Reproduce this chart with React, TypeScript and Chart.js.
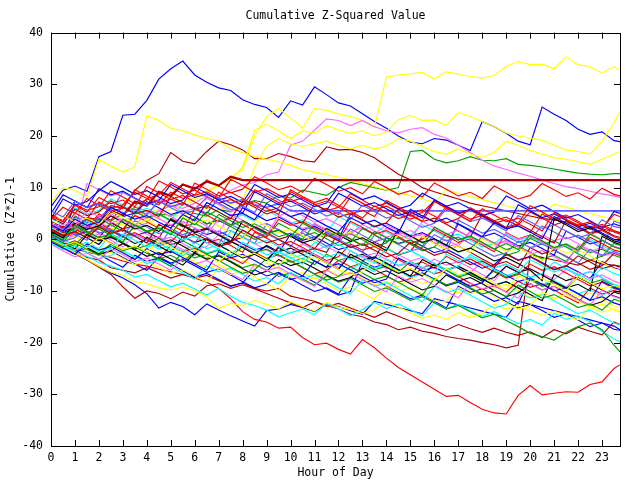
import React, { useEffect, useRef } from "react";
import { Chart, registerables } from "chart.js";

Chart.register(...registerables);

const TITLE = "Cumulative Z-Squared Value";
const X_TITLE = "Hour of Day";
const Y_TITLE = "Cumulative (Z*Z)-1";

const HOURS = [0, 0.5, 1, 1.5, 2, 2.5, 3, 3.5, 4, 4.5, 5, 5.5, 6, 6.5, 7, 7.5, 8, 8.5, 9, 9.5,
  10, 10.5, 11, 11.5, 12, 12.5, 13, 13.5, 14, 14.5, 15, 15.5, 16, 16.5, 17, 17.5, 18, 18.5, 19, 19.5,
  20, 20.5, 21, 21.5, 22, 22.5, 23, 23.5, 23.75];
const X_TICKS = [0, 1, 2, 3, 4, 5, 6, 7, 8, 9, 10, 11, 12, 13, 14, 15, 16, 17, 18, 19, 20, 21, 22, 23];
const X_MIN = 0;
const X_MAX = 23.75;
const Y_MIN = -40;
const Y_MAX = 40;

const BLUE = "#0000ff";
const RED = "#ff0000";
const GREEN = "#00a000";
const CYAN = "#00ffff";
const MAGENTA = "#ff66ff";
const YELLOW = "#ffff00";
const PERI = "#6060ff";
const DKRED = "#b00000";
const BLACK = "#000000";

// ---- bulk series (half-hour readings) ----
const d1 = [2.8,1.6,3.9,2.7,3.3,6.2,5.0,3.9,4.6,3.3, 2.2,4.8,3.6,7.1,5.9,4.6,5.0,3.8,6.9,5.7, 4.4,5.1,3.9,2.6,1.5,4.2,3.0,3.7,2.4,1.2, 5.8,4.5,3.3,4.1,2.9,1.6,0.5,3.2,2.0,2.6, 1.4,0.1,4.4,3.1,1.9,2.5,1.2,0.0,-0.3];
const d2 = [4.5,3.4,6.6,5.3,8.1,6.9,7.6,6.3,10.2,9.0, 7.7,8.5,7.2,6.0,9.1,7.8,6.6,7.3,6.0,4.8, 9.6,8.3,7.1,7.9,6.6,5.4,4.1,6.5,5.2,4.0, 4.8,3.5,7.3,6.0,4.8,3.5,5.9,4.7,3.4,4.1, 2.9,1.6,5.2,3.9,2.7,3.4,2.1,4.8,4.4];
const d3 = [1.0,-0.1,2.7,1.5,0.3,1.0,3.9,2.7,1.4,2.1, 0.9,4.1,2.8,5.3,4.1,2.8,3.5,2.2,1.0,1.8, 0.5,3.1,1.9,0.6,1.3,0.0,-1.2,1.5,0.3,-0.9, -0.2,-1.4,2.4,1.1,-0.1,0.6,-0.6,-1.9,-0.8,-2.0, 0.9,-0.3,-1.6,-0.9,-2.1,1.0,-0.2,-1.5,-1.8];
const d4 = [0.3,-0.9,-2.1,-1.2,-2.4,-1.7,1.0,-0.2,-1.5,-0.8, -2.0,-3.2,-1.4,-2.6,-1.9,-3.1,-0.6,-1.8,-3.0,-2.3, -3.5,-4.8,-2.2,-3.4,-2.7,-3.9,-5.1,-6.3,-3.8,-5.0, -4.3,-5.5,-6.7,-2.9,-4.1,-3.4,-4.6,-5.8,-7.0,-6.3, -3.9,-5.1,-6.3,-5.6,-6.8,-8.0,-5.4,-6.6,-7.0];
const d5 = [3.0,1.8,2.5,5.6,4.4,3.2,3.9,2.6,5.2,4.0, 2.8,3.5,2.2,1.0,3.9,2.7,3.4,2.1,0.9,4.6, 3.3,2.1,2.8,1.5,0.3,1.0,2.9,1.6,0.4,1.1, -0.1,3.5,2.2,1.0,1.7,0.4,-0.8,-2.0,1.2,0.0, 0.7,-0.6,-1.8,-1.1,-2.3,1.1,-0.1,-1.4,-1.7];
const d6 = [0.0,-1.2,-0.5,-1.7,0.4,-0.8,-2.0,-1.3,-2.5,-0.3, -1.5,-2.7,-2.0,-3.2,-4.4,-2.2,-3.4,-2.7,-3.9,-5.1, -2.9,-4.1,-3.4,-4.6,-5.8,-7.0,-6.3,-3.9,-5.1,-6.3, -5.6,-6.8,-8.0,-5.6,-6.8,-6.1,-7.3,-8.5,-9.7,-7.1, -8.3,-7.6,-8.8,-10.0,-7.2,-8.4,-9.6,-8.9,-9.3];
const d7 = [5.5,4.3,7.4,6.2,6.9,5.6,9.1,7.9,6.6,7.4, 6.1,4.9,5.6,8.2,7.0,5.7,6.4,5.2,8.8,7.6, 6.3,7.0,5.8,4.5,5.2,3.9,6.6,5.4,4.1,4.8, 3.6,2.3,3.1,5.9,4.7,3.4,4.1,2.9,1.6,4.6, 3.4,2.1,2.8,1.6,0.3,1.0,3.8,2.5,2.2];
const d8 = [2.0,0.8,1.5,0.3,2.4,1.1,1.8,0.6,-0.7,2.9, 1.6,0.4,1.1,-0.1,-1.4,-0.7,1.8,0.5,-0.7,0.0, -1.2,-2.5,-1.8,0.9,-0.3,-1.6,-0.9,-2.1,-3.4,-2.7, -0.6,-1.9,-3.1,-2.4,-3.6,-4.9,-4.2,-5.4,-2.9,-4.1, -3.4,-4.7,-5.9,-5.2,-3.2,-4.4,-5.7,-5.0,-5.4];
const d9 = [1.5,0.3,3.1,1.9,2.6,4.5,3.3,2.0,2.7,1.5, 3.8,2.6,1.3,2.0,0.8,-0.5,3.6,2.4,1.1,1.8, 0.6,-0.7,0.0,2.1,0.9,-0.4,0.3,-0.9,-2.2,1.9, 0.7,-0.6,0.1,-1.1,-2.4,-1.7,-2.9,-4.2,-3.5,-4.7, -6.0,-8.0,4.0,2.8,1.5,2.2,1.0,-0.3,-0.6];
const d10 = [-0.5,-1.7,-2.9,-0.9,-2.1,-1.4,-2.6,-3.9,-1.8,-3.0, -2.3,-3.5,-4.8,-6.0,-2.4,-3.6,-2.9,-4.1,-5.4,-4.7, -5.9,-7.1,-4.2,-5.4,-4.7,-5.9,-7.2,-8.4,-7.7,-3.6, -4.8,-6.1,-5.4,-6.6,-7.9,-9.1,-8.4,-5.7,-6.9,-8.2, -7.5,-8.7,-10.0,-9.3,-10.5,-11.8,-8.1,-9.3,-9.7];
const d11 = [3.8,6.2,5.0,7.9,6.6,5.4,6.1,9.6,8.4,7.1, 7.8,6.6,10.9,9.7,8.4,9.1,7.9,6.6,5.4,6.1, 9.2,8.0,6.7,7.4,6.2,4.9,5.6,4.4,7.5,6.3, 5.0,5.7,4.5,3.2,4.0,6.1,4.9,3.6,4.3,3.1, 6.5,5.3,4.0,4.7,3.5,2.2,2.9,1.7,1.3];
const d12 = [-0.2,-1.4,-0.7,-1.9,-3.1,-1.0,-2.2,-1.5,-2.7,-3.9, -5.2,-2.4,-3.6,-2.9,-4.1,-5.4,-6.6,-5.9,-3.7,-4.9, -4.2,-5.4,-6.7,-7.9,-7.2,-5.3,-6.5,-7.8,-7.1,-8.3, -9.6,-10.8,-7.6,-8.8,-8.1,-9.4,-10.6,-9.9,-11.1,-8.9, -10.1,-11.4,-10.7,-11.9,-13.2,-12.5,-13.7,-11.6,-12.0];
const d13 = [2.2,1.0,1.7,3.6,2.4,1.1,1.8,0.6,-0.7,2.4, 1.2,-0.1,0.6,-0.6,-1.9,1.6,0.4,-0.9,-0.2,-1.4, -2.7,-3.9,-0.5,-1.7,-1.0,-2.2,-3.5,-4.7,-1.7,-2.9, -2.2,-3.4,-4.7,-5.9,-5.2,-3.0,-4.2,-5.5,-4.8,-6.0, -7.3,-6.6,-4.4,-5.6,-6.9,-6.2,-7.4,-8.7,-9.0];
const d14 = [-1.0,-2.2,-3.4,-2.7,-3.9,-1.8,-3.0,-4.3,-3.6,-4.8, -6.0,-3.6,-4.8,-4.1,-5.4,-6.6,-7.8,-4.9,-6.1,-5.4, -6.7,-7.9,-9.1,-6.0,-7.2,-6.5,-7.8,-9.0,-10.2,-7.1, -8.3,-7.6,-8.9,-10.1,-11.3,-8.4,-9.6,-8.9,-10.2,-11.4, -8.6,-9.8,-9.1,-10.4,-11.6,-12.8,-9.9,-11.1,-11.5];
const d15 = [2.5,4.6,3.4,4.1,2.9,5.5,4.3,3.0,3.7,2.5, 1.2,4.3,3.1,3.8,2.6,1.3,0.1,3.8,2.6,1.3, 2.0,0.8,-0.5,1.9,0.7,1.4,0.2,-1.1,-2.3,1.0, -0.2,0.5,-0.8,-2.0,-1.3,-2.5,0.1,-1.1,-2.4,-1.7, -2.9,-4.2,-1.5,-2.7,-2.0,-3.2,-4.5,-5.7,-6.0];
const d16 = [0.8,-0.4,0.3,2.4,1.2,1.9,0.7,3.6,2.4,1.1, 1.8,0.6,-0.7,2.2,1.0,1.7,0.5,-0.8,3.0,1.8, 0.5,1.2,0.0,-1.3,-0.6,2.0,0.8,-0.5,0.2,-1.0, -2.3,-1.6,0.9,-0.3,0.4,-0.8,-2.1,-3.3,-2.6,-0.4, -1.6,-0.9,-2.1,-3.4,-4.6,-1.9,-3.1,-2.4,-2.8];
const d17 = [4.2,3.0,5.8,4.6,5.3,7.4,6.2,4.9,5.6,4.4, 8.3,7.1,5.8,6.5,5.3,4.0,7.4,6.2,4.9,5.6, 4.4,3.1,6.8,5.6,4.3,5.0,3.8,2.5,3.2,5.9, 4.7,3.4,4.1,2.9,1.6,0.4,4.8,3.6,2.3,3.0, 1.8,0.5,-0.7,3.7,2.5,1.2,1.9,0.7,0.4];
const d18 = [0.0,-1.2,-0.5,-1.7,-2.9,-2.2,-0.8,-2.0,-3.3,-2.6, -3.8,-5.0,-2.7,-3.9,-3.2,-4.4,-5.7,-6.9,-6.2,-3.9, -5.1,-4.4,-5.6,-6.9,-8.1,-7.4,-5.6,-6.8,-6.1,-7.3, -8.6,-9.8,-9.1,-6.9,-8.1,-7.4,-8.6,-9.9,-11.1,-10.4, -8.6,-9.8,-9.1,-10.3,-11.6,-12.8,-12.1,-10.2,-10.6];
const d19 = [5.0,8.6,7.4,6.1,9.8,8.6,9.3,8.0,6.8,7.5, 10.6,9.4,8.1,8.8,7.6,6.3,5.1,9.2,8.0,6.7, 7.4,6.2,4.9,5.6,8.9,7.7,6.4,7.1,5.9,4.6, 5.3,4.1,7.6,6.4,5.1,5.8,4.6,3.3,2.1,6.7, 5.5,4.2,4.9,3.7,2.4,3.1,1.9,5.4,5.0];
const d20 = [1.8,0.6,1.3,3.8,2.6,1.3,2.0,4.6,3.4,2.1, 2.8,1.6,5.9,4.7,3.4,4.1,2.9,1.6,0.4,3.9, 2.7,3.4,2.2,0.9,-0.3,3.5,2.3,1.0,1.7,0.5, -0.8,0.0,1.9,0.7,-0.6,0.1,-1.1,-2.4,1.3,0.1, 0.8,-0.4,-1.7,-1.0,-2.2,0.4,-0.8,-2.1,-2.4];
const d21 = [0.5,-0.7,2.5,1.3,2.0,0.8,-0.5,2.8,1.6,2.3, 1.1,-0.2,4.2,3.0,3.7,2.5,1.2,0.0,0.7,3.1, 1.9,0.6,1.3,0.1,-1.2,-0.5,2.1,0.9,-0.4,0.3, -0.9,-2.2,-1.5,1.1,-0.1,0.6,-0.6,-1.9,-3.1,-2.4, 0.2,-1.0,-0.3,-1.5,-2.8,-4.0,-3.3,-0.8,-1.2];
const d22 = [-0.8,-2.0,-1.3,-2.5,-3.8,-3.1,-2.2,-3.4,-4.7,-4.0, -5.2,-6.5,-7.7,-5.1,-6.3,-5.6,-6.8,-8.1,-7.4,-8.6, -6.4,-7.6,-6.9,-8.1,-9.4,-10.6,-7.9,-9.1,-8.4,-9.6, -10.9,-12.1,-9.1,-10.3,-9.6,-10.8,-12.1,-13.3,-12.6,-10.2, -11.4,-10.7,-11.9,-13.2,-14.4,-13.7,-15.0,-16.2,-16.6];
const d23 = [1.2,3.6,2.4,3.1,1.9,4.9,3.7,2.4,3.1,5.6, 4.4,3.1,3.8,2.6,1.3,4.9,3.7,2.4,3.1,1.9, 0.6,1.3,3.1,1.9,0.6,1.3,0.1,-1.2,2.2,1.0, 1.7,0.5,-0.8,-0.1,-1.3,1.6,0.4,-0.9,-0.2,-1.4, -2.7,0.9,-0.3,0.4,-0.8,-2.1,-3.3,-2.6,-3.0];
const d24 = [0.0,-1.4,-2.6,-3.9,-5.2,-6.3,-7.0,-8.2,-8.6,-9.4, -9.8,-9.2,-10.0,-11.1,-13.4,-12.4,-12.8,-11.8,-12.6,-13.4, -12.1,-13.0,-13.9,-12.2,-13.1,-13.6,-14.4,-13.6,-12.0,-13.1, -14.2,-15.3,-14.6,-15.5,-14.2,-15.1,-14.3,-12.6,-13.5,-12.9, -13.8,-14.7,-13.9,-14.8,-15.6,-13.2,-14.1,-13.5,-14.0];
const d25 = [3.0,2.0,4.3,3.3,4.0,6.1,5.1,5.8,4.8,7.3, 6.3,7.0,6.0,5.0,8.0,7.0,7.7,6.7,6.2,6.9, 5.5,5.5,5.5,5.5,5.5,5.5,5.5,5.5,5.5,5.5, 5.5,5.5,5.5,5.5,5.5,5.5,5.5,5.5,5.5,5.5, 5.5,5.5,5.5,5.5,5.5,5.5,5.5,5.5,5.5];
const d26 = [0.8,2.4,1.6,3.9,3.1,5.4,4.6,7.3,6.5,9.2, 8.4,10.6,9.8,11.2,10.4,12.1,11.45,11.45,11.45,11.45, 11.45,11.45,11.45,11.45,11.45,11.45,11.45,11.45,11.45,11.45, 11.45,11.45,11.45,11.45,11.45,11.45,11.45,11.45,11.45,11.45, 11.45,11.45,11.45,11.45,11.45,11.45,11.45,11.45,11.45];
const d27 = [0.5,-0.7,-1.9,0.9,-0.3,0.4,-0.8,-2.1,0.4,-0.8, -0.1,-1.3,-2.6,0.1,-1.1,-0.4,-1.6,-2.9,-4.1,-1.6, -2.8,-2.1,-3.3,-4.6,-5.8,-2.9,-4.1,-3.4,-4.6,-5.9, -7.1,-3.9,-5.1,-4.4,-5.6,-6.9,-8.1,-7.4,-5.2,-6.4, -5.7,-6.9,-8.2,-9.4,-8.7,-10.0,0.6,-0.6,-1.0];
const d28 = [4.0,7.8,6.6,7.3,9.4,11.2,10.0,8.7,9.4,8.2, 6.9,7.6,10.1,8.9,7.6,8.3,7.1,10.6,9.4,8.1, 8.8,7.6,6.3,7.0,10.2,9.0,7.7,8.4,7.2,5.9, 6.6,8.9,7.7,6.4,7.1,5.9,4.6,5.3,8.4,7.2, 5.9,6.6,5.4,4.1,4.8,3.6,2.3,3.0,2.6];
const d29 = [3.0,1.8,5.1,3.9,7.2,6.0,6.7,9.1,7.9,8.6, 11.0,9.8,8.5,9.2,8.0,11.6,10.4,9.1,9.8,8.6, 7.3,8.0,6.8,5.5,6.2,8.8,7.6,6.3,7.0,5.8, 4.5,5.2,7.4,6.2,4.9,5.6,4.4,3.1,3.8,2.6, 1.3,4.9,3.7,4.4,3.2,1.9,2.6,1.4,1.0];
const d30 = [0.0,-1.2,-0.4,-1.6,-2.8,-0.9,-2.1,-1.4,-2.6,-3.8, -3.1,-4.3,-2.5,-3.7,-3.0,-4.2,-5.5,-4.8,-6.0,-7.2, -6.5,-7.7,-8.9,-7.1,-8.3,-7.6,-8.8,-10.1,-9.4,-10.6, -11.8,-11.1,-12.3,-13.5,-12.8,-14.0,-15.2,-14.5,-15.7,-16.9, -18.2,-18.8,-19.5,-18.0,-16.9,-16.2,-17.5,-20.5,-21.8];
const d31 = [0.0,-1.2,-2.4,-3.3,-4.5,-5.2,-6.0,-7.3,-6.8,-8.0, -9.2,-8.5,-9.6,-10.8,-9.5,-11.0,-12.2,-12.8,-13.7,-15.0, -14.2,-13.5,-14.6,-12.4,-13.5,-14.8,-13.6,-12.2,-13.4,-12.5, -13.6,-14.8,-12.3,-13.4,-12.6,-13.8,-14.9,-14.0,-15.2,-16.3, -15.5,-16.6,-14.3,-15.5,-14.8,-16.0,-17.8,-19.3,-19.8];
const d32 = [0.0,-1.2,1.5,0.3,1.0,-0.2,-1.5,1.0,-0.2,0.5, -0.7,-2.0,-3.2,0.2,-1.0,-0.3,-1.5,-2.8,-4.0,-1.3, -2.5,-1.8,-3.0,-4.3,-5.5,-2.2,-3.4,-2.7,-3.9,-5.2, -4.5,-5.7,-3.8,-5.0,-4.3,-5.5,-6.8,-8.0,-5.2,-6.4, -5.7,-6.9,-8.2,-9.4,-6.4,-7.6,-6.9,-8.1,-8.5];
const d33 = [-0.3,-1.5,-0.8,-2.0,-3.2,-2.5,-3.7,-4.9,-4.2,-5.4, -6.6,-5.9,-7.1,-8.3,-5.6,-6.8,-6.1,-7.3,-8.6,-9.8, -6.9,-8.1,-7.4,-8.6,-9.9,-9.2,-10.4,-11.6,-8.9,-10.1, -9.4,-10.6,-11.9,-12.1,-9.3,-10.5,-9.8,-11.0,-12.3,-13.5, -12.8,-10.2,-11.4,-10.7,-11.9,-13.2,-12.5,-13.7,-14.1];
const d34 = [1.5,0.3,1.0,-0.2,2.8,1.6,0.3,1.0,-0.2,-1.5, 2.1,0.9,1.6,0.4,-0.9,2.9,1.7,0.4,1.1,-0.1, -1.4,1.7,0.5,1.2,0.0,-1.3,-2.5,0.8,-0.4,0.3, -0.9,-2.2,-1.5,-2.7,3.7,2.5,1.2,1.9,0.7,-0.6, 0.1,2.6,1.4,0.1,0.8,-0.4,-1.7,3.5,3.1];
const d35 = [3.5,2.3,3.0,1.8,4.5,3.3,2.0,2.7,1.5,0.2, 4.0,2.8,1.5,2.2,1.0,-0.3,0.4,2.5,1.3,0.0, 0.7,-0.5,-1.8,-2.5,1.3,0.1,-1.2,-0.5,-1.7,-3.0, -2.3,0.5,-0.7,-2.0,-1.3,-2.5,-3.8,-5.0,-4.3,-5.5, -1.6,-2.8,-2.1,-3.3,-4.6,-5.8,-5.1,-2.7,-3.1];
const d36 = [2.0,0.8,1.5,0.3,-1.0,1.7,0.5,-0.8,-0.1,-1.3, -2.6,0.6,-0.6,0.1,-1.1,-2.4,-3.6,-2.9,-1.2,-2.4, -1.7,-2.9,-4.2,-5.4,-2.4,-3.6,-2.9,-4.1,-5.4,-6.6, -5.9,-7.1,-4.7,-5.9,-5.2,-6.4,-7.7,-8.9,-8.2,-9.4, -10.7,-11.9,-6.8,-8.0,-7.3,-8.5,-9.8,-11.0,-11.4];
const d37 = [4.8,3.6,6.8,5.6,6.3,9.4,8.2,6.9,7.6,11.3, 10.1,8.8,9.5,8.3,7.0,7.7,6.5,9.6,8.4,7.1, 7.8,6.6,5.3,6.0,4.8,8.2,7.0,5.7,6.4,5.2, 3.9,4.6,3.4,6.4,5.2,3.9,4.6,3.4,2.1,2.8, 5.3,4.1,2.8,3.5,2.3,1.0,1.7,0.5,0.1];
const d38 = [1.0,-0.2,7.4,6.2,6.9,5.7,4.4,5.1,7.3,6.1, 4.8,5.5,4.3,3.0,3.7,2.5,6.1,4.9,3.6,4.3, 3.1,1.8,2.5,1.3,0.0,4.9,3.7,2.4,3.1,1.9, 0.6,1.3,0.1,-1.2,3.0,1.8,0.5,1.2,0.0,-1.3, -0.6,-1.8,-3.1,1.6,0.4,-0.9,-0.2,-1.4,-1.8];
const d39 = [-0.5,-1.7,-1.0,1.1,-0.1,0.6,-0.6,-1.9,-1.2,0.2, -1.0,-0.3,-1.5,-2.8,-2.1,-3.3,-1.4,-2.6,-1.9,-3.1, -4.4,-3.7,-4.9,-2.9,-4.1,-3.4,-4.6,-5.9,-5.2,-6.4, -4.3,-5.5,-4.8,-6.0,-7.3,-6.6,-7.8,-6.1,-7.3,-6.6, -7.8,-9.1,-8.4,-9.6,-7.3,-8.5,-7.8,-9.0,-9.4];
const d40 = [1.2,0.0,-1.3,-0.6,-1.8,1.1,-0.1,0.6,-0.6,-1.9, -1.2,-2.4,-0.6,-1.8,-1.1,-2.3,-3.6,-2.9,-4.1,-2.5, -3.7,-3.0,-4.2,-5.5,-4.8,-6.0,-4.4,-5.6,-4.9,-6.1, -7.4,-6.7,-7.9,-5.9,-7.1,-6.4,-7.6,-8.9,-8.2,-9.4, -7.5,-8.7,-8.0,-9.2,-10.5,-9.8,-11.0,-9.2,-9.6];
const d41 = [0.0,0.9,1.8,10.8,9.6,8.4,9.1,7.9,6.6,7.8, 6.6,5.3,6.0,7.9,6.7,5.4,6.1,4.9,3.6,4.3, 5.8,4.6,3.3,4.0,2.8,1.5,2.2,1.0,2.8,1.6, 0.3,1.0,-0.2,-1.5,-0.8,1.4,0.2,-1.1,-0.4,-1.6, -2.9,-2.2,-3.4,-4.7,-1.1,-2.3,-1.6,-2.8,-3.2];
const d42 = [0.0,-1.2,-2.4,-1.7,-2.9,-4.2,-5.4,-3.1,-4.3,-3.6, -4.8,-6.1,-7.3,-6.6,-7.8,-9.1,-8.4,-5.9,-7.1,-6.4, -7.6,-8.9,-10.1,-9.4,-10.6,-7.3,-8.5,-7.8,-9.0,-10.3, -11.5,-10.8,-12.0,-13.3,-9.1,-10.3,-9.6,-10.8,-12.1,-13.3, -12.6,-13.8,-15.1,-14.4,-15.6,-16.9,-16.2,-17.4,-17.6];
const d43 = [0.2,-1.0,-0.3,-1.5,0.5,-0.7,-2.0,-1.3,-2.5,-3.8, -1.2,-2.4,-1.7,-2.9,-4.2,-3.5,-4.7,-2.5,-3.7,-3.0, -4.2,-5.5,-6.7,-6.0,-4.1,-5.3,-4.6,-5.8,-7.1,-8.3, -7.6,-5.5,-6.7,-6.0,-7.2,-8.5,-9.7,-9.0,-10.2,-8.1, -9.3,-8.6,-9.8,-11.1,-12.3,-9.4,-10.6,-9.9,-10.3];
const d44 = [0.0,-1.2,-0.5,-1.7,-3.0,-2.3,-3.5,-4.8,-6.0,-3.4, -4.6,-3.9,-5.1,-6.4,-5.7,-6.9,-8.2,-9.4,-8.7,-6.6, -7.8,-7.1,-8.3,-9.6,-10.8,-10.1,-4.2,-5.4,-4.7,-5.9, -7.2,-6.5,-7.7,-9.0,-8.3,-9.5,-10.8,-12.0,-11.3,-12.5, -7.6,-8.8,-8.1,-9.3,-10.6,-11.8,-11.1,-12.3,-12.7];
const d45 = [2.5,1.3,2.0,0.8,3.1,1.9,0.6,1.3,0.1,-1.2, -0.5,1.8,0.6,-0.7,0.0,-1.2,-2.5,1.4,0.2,-1.1, -0.4,-1.6,-2.9,-4.1,-3.4,-0.9,-2.1,-1.4,-2.6,-3.9, -5.1,-4.4,-5.6,-3.3,-4.5,-3.8,-5.0,-6.3,-7.5,-6.8, -4.8,-6.0,-5.3,-6.5,-7.8,-9.0,-8.3,-9.5,-9.9];
const d46 = [1.8,0.6,4.5,3.3,4.0,2.8,1.5,5.4,4.2,4.9, 3.7,2.4,3.1,1.9,4.8,3.6,2.3,3.0,1.8,0.5, 1.2,0.0,2.9,1.7,0.4,1.1,-0.1,-1.4,-0.7,1.8, 0.6,-0.7,0.0,-1.2,-2.5,-1.8,0.5,-0.7,-2.0,-1.3, -2.5,-3.8,-3.1,-4.3,-1.4,-2.6,-1.9,-3.1,-3.5];
const d47 = [3.2,2.0,0.8,1.5,0.3,3.2,2.0,0.7,1.4,0.2, -1.1,-0.4,2.1,0.9,1.6,0.4,-0.9,-2.1,-1.4,-2.6, 1.0,-0.2,0.5,-0.7,-2.0,-1.3,-2.5,-3.8,0.4,-0.8, -0.1,-1.3,-2.6,-1.9,-3.1,-4.4,-5.6,-4.9,-2.8,-4.0, -3.3,-4.5,-5.8,-5.1,-6.3,-7.6,-4.3,-5.5,-5.9];
const d48 = [0.6,3.1,1.9,2.6,1.4,0.1,0.8,2.2,1.0,-0.3, 0.4,-0.8,-2.1,-1.4,0.9,-0.3,0.4,-0.8,-2.1,-3.3, -2.6,-0.9,-2.1,-1.4,-2.6,-3.9,-3.2,-4.4,-5.7,-3.0, -4.2,-3.5,-4.7,-6.0,-5.3,-6.5,-4.3,-5.5,-4.8,-6.0, -7.3,-6.6,-7.8,-5.8,-7.0,-6.3,-7.5,-8.8,-9.2];
const d49 = [1.0,-0.2,0.5,-0.7,-2.0,-1.3,-2.5,-3.8,-1.4,-2.6, -1.9,-3.1,-4.4,-5.6,-4.9,-6.1,-4.1,-5.3,-4.6,-5.8, -7.1,-6.4,-7.6,-5.8,-7.0,-6.3,-7.5,-8.8,-8.1,-9.3, -7.4,-8.6,-7.9,-9.1,-10.4,-9.7,-8.2,-9.4,-8.7,-9.9, -11.2,-10.5,-11.7,-9.9,-11.1,-10.4,-11.6,-12.9,-13.3];
const d50 = [4.0,2.8,6.1,4.9,5.6,7.8,6.6,5.3,6.0,4.8, 3.5,7.0,5.8,6.5,5.3,4.0,4.7,3.5,5.6,4.4, 3.1,3.8,2.6,1.3,4.4,3.2,1.9,2.6,1.4,0.1, 0.8,2.8,1.6,0.3,1.0,-0.2,-1.5,-0.8,1.0,-0.2, 0.5,-0.7,-2.0,-1.3,-2.5,0.0,-1.2,-2.4,-2.8];
const d51 = [0.0,-1.3,-2.7,-4.0,-5.4,-6.8,-9.2,-11.4,-10.0,-10.5, -11.5,-10.2,-11.0,-9.0,-8.6,-9.5,-8.8,-9.6,-10.5,-11.4, -12.3,-13.2,-12.1,-13.0,-12.4,-13.3,-14.2,-15.1,-14.0,-14.9, -15.8,-16.4,-17.0,-17.6,-16.5,-17.3,-18.0,-17.2,-18.0,-18.6, -17.9,-19.0,-17.5,-18.3,-17.0,-17.8,-18.5,-16.0,-16.5];
const d52 = [2.0,0.8,3.5,2.3,4.9,3.7,6.4,5.2,7.9,6.7, 9.1,7.9,8.6,11.5,10.3,9.0,9.7,12.1,10.9,9.6, 10.3,9.1,11.8,10.6,9.3,10.0,8.8,11.2,10.0,8.7, 9.4,8.2,10.9,9.7,8.4,9.1,7.9,10.3,9.1,7.8, 8.5,10.8,9.6,8.3,9.0,7.8,9.9,8.7,8.4];

// ---- prominent series ----
const blueTop = [6.3,9.5,10.3,9.3,16.0,17.0,24.0,24.2,26.9,31.0, 33.0,34.5,31.8,30.4,29.3,28.8,27.0,26.1,25.5,23.6, 26.8,26.0,29.5,28.0,26.4,25.8,24.3,22.8,21.5,20.0, 18.8,18.5,19.5,19.2,18.2,17.2,22.8,21.8,20.5,19.0, 18.3,25.6,24.2,23.0,21.3,20.3,20.8,19.1,18.9];
const yellowTop = [0,0.8,1.5,2.5,2.0,3.0,3.5,4.5,5.0,5.8, 6.5,7.0,8.0,9.5,10.5,12.0,13.5,20.0,23.7,25.3, 23.5,21.5,25.3,25.0,24.3,23.8,23.0,21.6,31.4,31.8, 32.0,32.3,31.0,32.4,32.0,31.5,31.2,31.7,33.5,34.4, 33.8,33.9,33.0,35.3,33.8,33.4,32.2,33.4,32.7];
const yellowEarly = [7.2,10.0,9.5,8.3,15.5,14.2,13.0,14.0,23.9,23.0, 21.5,21.0,20.2,19.5,19.0,17.5,16.8,16.0,15.5,15.0, 14.3,13.5,13.0,12.5,12.0,11.4,10.8,10.2,9.6,9.0, 8.4,7.8,7.2,9.5,8.9,8.3,7.7,7.1,6.5,5.9, 5.3,4.7,6.8,6.2,5.6,5.0,4.4,3.8,3.5];
const yellowMid = [0,-0.5,0.5,1.5,1.0,2.0,3.0,2.5,4.0,5.0, 5.8,6.5,7.5,9.0,10.5,11.5,14.0,21.1,22.3,21.0, 19.5,21.0,20.5,22.0,21.2,20.5,21.0,20.0,20.8,23.1, 24.0,23.0,23.1,22.0,24.5,23.8,22.8,21.8,20.6,20.0, 19.6,19.2,18.2,17.3,17.0,16.5,19.0,22.5,24.7];
const yellowLow = [0,0.7,1.4,1.0,2.2,1.8,3.0,3.5,3.0,4.2, 4.8,4.4,5.5,6.0,5.6,6.8,7.5,14.0,18.0,19.5, 18.5,18.0,18.5,19.0,18.2,17.5,18.2,17.5,18.0,19.5, 19.0,18.0,17.0,16.5,17.5,16.5,15.8,16.8,19.0,18.2, 17.2,16.5,15.8,15.5,15.0,14.5,15.5,16.5,17.0];
const magentaTop = [0,1.0,0.5,2.0,3.0,2.5,3.5,4.5,4.0,5.5, 6.5,6.0,7.0,8.5,8.0,9.5,10.5,11.0,12.5,13.0, 18.2,19.0,21.1,23.3,23.0,22.0,23.0,21.8,21.0,20.6, 21.3,21.6,20.3,19.6,18.2,16.8,15.3,14.2,13.5,12.8, 12.2,11.5,10.8,10.2,9.8,9.3,8.8,8.4,8.1];
const darkRedTop = [0.5,2.5,2.0,4.2,3.8,6.5,6.0,9.5,11.4,12.7, 16.8,15.1,14.6,17.0,19.0,18.3,17.3,15.6,15.6,16.6, 16.0,15.2,15.0,17.9,17.3,17.4,16.8,15.8,14.2,12.6, 11.5,10.0,9.2,8.5,7.8,7.0,6.5,6.0,5.5,5.0, 4.5,4.0,3.8,3.2,2.8,2.5,2.0,1.5,1.3];
const greenTop = [0,1.5,1.0,2.5,3.8,3.5,5.0,6.2,5.5,5.0, 4.5,5.5,5.0,4.5,5.8,5.3,6.8,7.5,7.0,8.5, 8.0,9.5,9.0,8.5,10.0,11.0,10.5,10.0,9.5,10.0, 17.0,17.2,15.5,14.8,15.2,16.0,15.3,15.2,15.6,14.5, 14.3,14.0,13.6,13.2,12.8,12.6,12.5,12.7,12.7];
const darkRedLow = [0,-1.5,-2.0,-3.5,-4.0,-5.5,-6.0,-6.5,-5.5,-6.5, -7.5,-6.8,-7.5,-7.0,-8.0,-9.0,-8.5,-9.5,-10.0,-9.5, -11.0,-11.5,-12.0,-12.8,-13.5,-14.5,-15.0,-16.0,-16.5,-17.5, -17.0,-17.8,-18.2,-18.8,-19.2,-19.5,-20.0,-20.4,-21.0,-20.5, -3.0,-3.5,-4.0,-4.5,-5.0,-4.0,-4.8,-5.0,-5.2];
const redBottom = [0,-1.0,-1.8,-2.5,-3.0,-3.5,-4.2,-4.8,-5.2,-5.8, -6.3,-6.8,-7.5,-8.3,-9.5,-11.5,-14.0,-15.5,-16.0,-17.2, -17.0,-19.0,-20.4,-20.1,-21.3,-22.2,-19.4,-21.0,-23.0,-24.8, -26.2,-27.6,-29.0,-30.4,-30.2,-31.6,-32.9,-33.6,-33.8,-30.2, -28.3,-30.1,-29.8,-29.5,-29.6,-28.1,-27.6,-25.0,-24.3];
const blueBottom = [0,-1.5,-2.8,-4.0,-5.2,-6.5,-7.5,-8.8,-10.5,-13.3, -12.2,-13.0,-14.6,-12.5,-13.7,-14.8,-15.8,-16.8,-13.8,-13.5, -12.6,-13.2,-14.0,-12.5,-13.0,-13.8,-14.5,-12.0,-12.6,-13.2, -13.8,-14.4,-11.5,-12.1,-12.7,-13.3,-13.9,-14.5,-15.1,-12.0, -12.6,-13.2,-13.8,-14.4,-15.0,-15.6,-16.2,-16.8,-17.5];

const SERIES: [number[], string, number][] = [
  [d1, BLUE, 1], [d2, RED, 1], [d3, GREEN, 1], [d4, CYAN, 1], [d5, MAGENTA, 1], [d6, YELLOW, 1],
  [d7, PERI, 1], [d8, DKRED, 1], [d9, BLACK, 1], [d10, BLUE, 1], [d11, RED, 1], [d12, GREEN, 1],
  [d13, CYAN, 1], [d14, MAGENTA, 1], [d15, YELLOW, 1], [d16, PERI, 1], [d17, DKRED, 1], [d18, BLACK, 1],
  [d19, BLUE, 1], [d20, RED, 1], [d21, GREEN, 1], [d22, CYAN, 1], [d23, MAGENTA, 1], [d24, YELLOW, 1],
  [d25, PERI, 1.4], [d26, DKRED, 2], [d27, BLACK, 1], [d28, BLUE, 1], [d29, RED, 1], [d30, GREEN, 1],
  [d31, CYAN, 1], [d32, MAGENTA, 1], [d33, YELLOW, 1], [d34, PERI, 1], [d35, DKRED, 1], [d36, BLACK, 1],
  [d37, RED, 1], [d38, BLUE, 1], [d39, GREEN, 1], [d40, CYAN, 1], [d41, MAGENTA, 1], [d42, BLUE, 1],
  [d43, RED, 1], [d44, BLUE, 1], [d45, RED, 1], [d46, GREEN, 1], [d47, BLUE, 1], [d48, MAGENTA, 1],
  [d49, YELLOW, 1], [d50, CYAN, 1], [d51, DKRED, 1], [d52, RED, 1],
  [yellowEarly, YELLOW, 1], [yellowMid, YELLOW, 1], [yellowLow, YELLOW, 1], [magentaTop, MAGENTA, 1],
  [darkRedTop, DKRED, 1], [greenTop, GREEN, 1], [darkRedLow, DKRED, 1], [redBottom, RED, 1],
  [blueBottom, BLUE, 1], [yellowTop, YELLOW, 1], [blueTop, BLUE, 1],
];

const FONT = { family: "'DejaVu Sans Mono', monospace", size: 11.5, weight: "normal" as const, lineHeight: 1.2 };

const frameTicks = {
  id: "frameTicks",
  afterDatasetsDraw(chart: any) {
    const { ctx, chartArea, scales } = chart;
    const { left, right, top, bottom } = chartArea;
    const xs = scales.x;
    const ys = scales.y;
    ctx.save();
    ctx.strokeStyle = "#000";
    ctx.lineWidth = 1;
    ctx.beginPath();
    xs.ticks.forEach((t: any) => {
      const px = Math.round(xs.getPixelForValue(t.value)) + 0.5;
      ctx.moveTo(px, bottom);
      ctx.lineTo(px, bottom - 6);
      ctx.moveTo(px, top);
      ctx.lineTo(px, top + 6);
    });
    ys.ticks.forEach((t: any) => {
      const py = Math.round(ys.getPixelForValue(t.value)) + 0.5;
      ctx.moveTo(left, py);
      ctx.lineTo(left + 6, py);
      ctx.moveTo(right, py);
      ctx.lineTo(right - 6, py);
    });
    ctx.stroke();
    ctx.strokeRect(Math.round(left) + 0.5, Math.round(top) + 0.5, Math.round(right - left), Math.round(bottom - top));
    ctx.restore();
  },
};

export default function App() {
  const ref = useRef<HTMLCanvasElement | null>(null);
  useEffect(() => {
    if (!ref.current) return;
    const datasets = SERIES.map(([vals, color, w]) => ({
      data: HOURS.map((h, i) => ({ x: h, y: vals[i] })),
      borderColor: color,
      backgroundColor: color,
      borderWidth: w * 1.15,
      pointRadius: 0,
      tension: 0,
      fill: false,
    }));
    const chart = new Chart(ref.current, {
      type: "line",
      data: { datasets },
      plugins: [frameTicks],
      options: {
        animation: false,
        responsive: false,
        maintainAspectRatio: false,
        layout: { padding: { left: 0, right: 20, top: 0, bottom: 0 } },
        plugins: {
          legend: { display: false },
          tooltip: { enabled: false },
          title: {
            display: true,
            text: TITLE,
            color: "#000",
            font: FONT,
            fullSize: false,
            padding: { top: 9, bottom: 9.8 },
          },
        },
        scales: {
          x: {
            type: "linear",
            min: X_MIN,
            max: X_MAX,
            grid: { display: false, drawTicks: false },
            border: { display: false },
            afterBuildTicks: (axis: any) => {
              axis.ticks = X_TICKS.map((v) => ({ value: v }));
            },
            afterFit: (scale: any) => { scale.height = 34; },
            ticks: {
              autoSkip: false,
              maxRotation: 0,
              color: "#000",
              font: FONT,
              padding: 5,
              callback: (v: any) => String(v),
            },
            title: { display: true, text: X_TITLE, color: "#000", font: FONT, padding: { top: 0, bottom: 0 } },
          },
          y: {
            type: "linear",
            min: Y_MIN,
            max: Y_MAX,
            grid: { display: false, drawTicks: false },
            border: { display: false },
            afterFit: (scale: any) => { scale.width = 51; },
            ticks: { stepSize: 10, color: "#000", font: FONT, padding: 8 },
            title: { display: true, text: Y_TITLE, color: "#000", font: FONT, padding: { top: 4, bottom: 0 } },
          },
        },
      },
    } as any);
    return () => chart.destroy();
  }, []);
  return (
    <div style={{ position: "fixed", left: 0, top: 0, width: 640, height: 480, background: "#fff" }}>
      <canvas ref={ref} width={640} height={480} style={{ width: 640, height: 480, display: "block" }} />
    </div>
  );
}
